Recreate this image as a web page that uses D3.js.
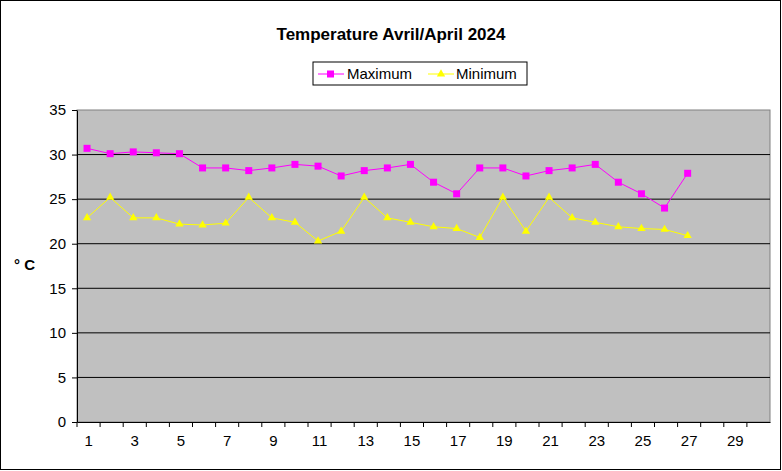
<!DOCTYPE html>
<html><head><meta charset="utf-8">
<script src="https://cdn.jsdelivr.net/npm/d3@7"></script>
<style>body{margin:0;background:#fff}text{font-family:Arial,"Liberation Sans",sans-serif}</style>
</head><body>
<svg id="c" width="782" height="471"></svg>
<script>
const days = d3.range(1, 31);
const maxTemps = [30.7,30.1,30.3,30.2,30.1,28.5,28.5,28.2,28.5,28.9,28.7,27.6,28.2,28.5,28.9,26.9,25.6,28.5,28.5,27.6,28.2,28.5,28.9,26.9,25.6,24.0,27.9];
const minTemps = [22.9,25.2,22.9,22.9,22.2,22.1,22.3,25.2,22.9,22.4,20.3,21.4,25.2,22.9,22.4,21.9,21.7,20.7,25.2,21.4,25.2,22.9,22.4,21.9,21.7,21.6,20.9];
const yTicks = [0,5,10,15,20,25,30,35];

const svg = d3.select('#c');
svg.append('rect').attr('x',0.5).attr('y',0.5).attr('width',780).attr('height',469)
  .attr('fill','#fff').attr('stroke','#000');

const margin = {left:77, top:110, right:770, bottom:422};
const x = d3.scaleBand().domain(days).range([margin.left, margin.right]);
const y = d3.scaleLinear().domain([0,35]).range([margin.bottom, margin.top]);

svg.append('rect').attr('x',margin.left).attr('y',margin.top)
  .attr('width',margin.right-margin.left).attr('height',margin.bottom-margin.top)
  .attr('fill','#c0c0c0').attr('stroke','#808080');

// gridlines
svg.selectAll('.grid').data(yTicks.slice(1,-1)).enter().append('line')
  .attr('x1',margin.left).attr('x2',margin.right)
  .attr('y1',d=>y(d)).attr('y2',d=>y(d)).attr('stroke','#000');

const yAxis = svg.append('g').attr('transform',`translate(${margin.left},0)`)
  .call(d3.axisLeft(y).tickValues(yTicks).tickSize(5).tickSizeOuter(0).tickPadding(6));
const xAxis = svg.append('g').attr('transform',`translate(0,${margin.bottom})`)
  .call(d3.axisBottom(x).tickValues(days).tickSize(5).tickSizeOuter(0).tickPadding(8)
    .tickFormat(d => d % 2 ? d : ''));
[yAxis, xAxis].forEach(g => {
  g.selectAll('text').attr('font-size',15).attr('fill','#000').attr('font-family','Arial, Liberation Sans, sans-serif');
  g.selectAll('line,path').attr('stroke','#000');
});
xAxis.selectAll('.tick line').attr('transform',`translate(${-x.bandwidth()/2},0)`);

const cx = (d,i) => x(days[i]) + x.bandwidth()/2 - 1.5;
const line = d3.line().x((d,i)=>cx(d,i)).y(d=>y(d));
svg.append('path').datum(maxTemps).attr('d',line).attr('fill','none').attr('stroke','#ff00ff');
svg.append('path').datum(minTemps).attr('d',line).attr('fill','none').attr('stroke','#ffff00');
svg.selectAll('.sq').data(maxTemps).enter().append('rect')
  .attr('x',(d,i)=>cx(d,i)-3.5).attr('y',d=>y(d)-3.5).attr('width',7).attr('height',7).attr('fill','#ff00ff');
const tri = d3.symbol().type(d3.symbolTriangle).size(30);
svg.selectAll('.tr').data(minTemps).enter().append('path')
  .attr('d',tri).attr('transform',(d,i)=>`translate(${cx(d,i)},${y(d)})`).attr('fill','#ffff00');

svg.append('text').attr('x',391).attr('y',40).attr('text-anchor','middle')
  .attr('font-size',17).attr('font-weight','bold').text('Temperature Avril/April 2024');
svg.append('text').attr('x',14).attr('y',270).attr('font-size',15).attr('font-weight','bold').text('° C');

// legend
const lg = svg.append('g');
lg.append('rect').attr('x',313).attr('y',62).attr('width',214).attr('height',23).attr('fill','#fff').attr('stroke','#000');
lg.append('line').attr('x1',318).attr('x2',344).attr('y1',74).attr('y2',74).attr('stroke','#ff00ff');
lg.append('rect').attr('x',327).attr('y',70.5).attr('width',7).attr('height',7).attr('fill','#ff00ff');
lg.append('text').attr('x',347).attr('y',79).attr('font-size',15).text('Maximum');
lg.append('line').attr('x1',428).attr('x2',454).attr('y1',74).attr('y2',74).attr('stroke','#ffff00');
lg.append('path').attr('d',tri).attr('transform','translate(441,74)').attr('fill','#ffff00');
lg.append('text').attr('x',456).attr('y',79).attr('font-size',15).text('Minimum');
</script>
</body></html>
